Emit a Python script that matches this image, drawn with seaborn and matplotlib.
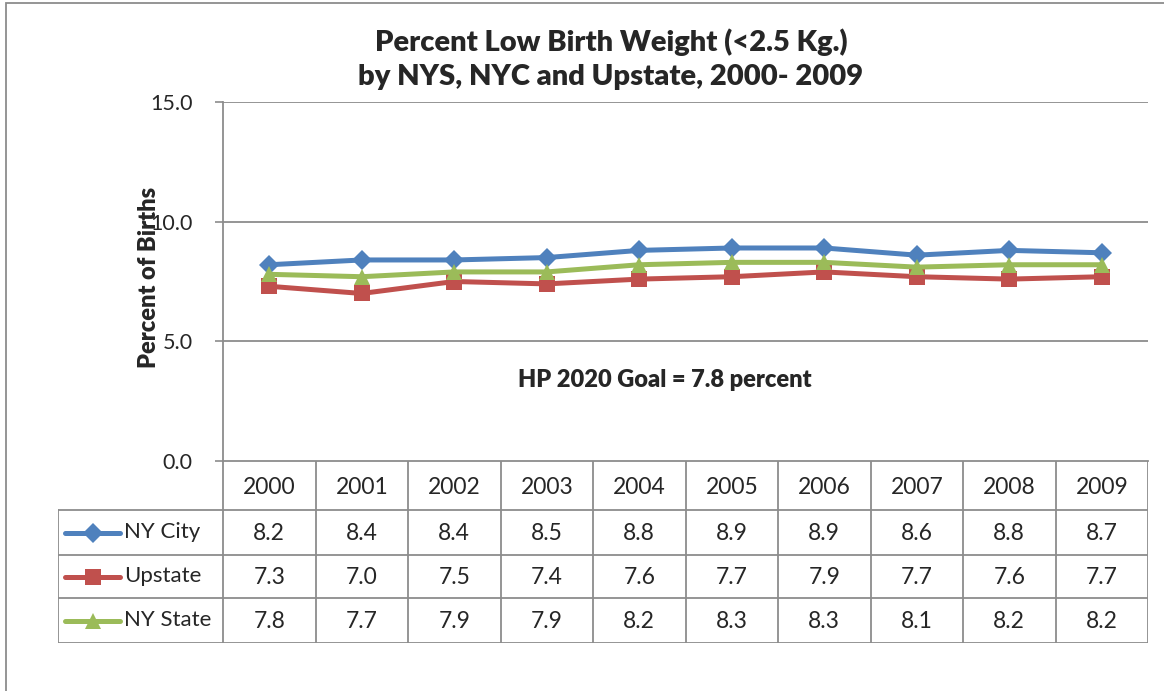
import pandas as pd
import matplotlib.pyplot as plt
import seaborn as sns
from matplotlib.patches import Rectangle
from matplotlib.lines import Line2D

# data
years = [2000, 2001, 2002, 2003, 2004, 2005, 2006, 2007, 2008, 2009]
ny_city = [8.2, 8.4, 8.4, 8.5, 8.8, 8.9, 8.9, 8.6, 8.8, 8.7]
upstate = [7.3, 7.0, 7.5, 7.4, 7.6, 7.7, 7.9, 7.7, 7.6, 7.7]
ny_state = [7.8, 7.7, 7.9, 7.9, 8.2, 8.3, 8.3, 8.1, 8.2, 8.2]
series_names = ["NY City", "Upstate", "NY State"]
y_ticks = [0, 5, 10, 15]

colors = {"NY City": "#4F81BD", "Upstate": "#C0504D", "NY State": "#9BBB59"}
markers = {"NY City": "D", "Upstate": "s", "NY State": "^"}
msizes = {"NY City": 10, "Upstate": 11, "NY State": 12}

df = pd.DataFrame({
    "year": years * 3,
    "value": ny_city + upstate + ny_state,
    "series": ["NY City"] * 10 + ["Upstate"] * 10 + ["NY State"] * 10,
})

sns.set_theme(style="white")
plt.rcParams["font.family"] = ["Lato", "DejaVu Sans"]

W, H = 1164, 691
fig = plt.figure(figsize=(W / 100, H / 100), dpi=100)
grid_c = "#8C8C8C"

# outer chart frame
fig.patches.append(Rectangle((6 / W, -0.05), 1.2, 1 - 3 / H + 0.05, transform=fig.transFigure,
                             fill=False, edgecolor=grid_c, lw=1.3))

ax = fig.add_axes([223 / W, 1 - 461 / H, (1148 - 223) / W, (461 - 102) / H])
for name in series_names:
    sub = df[df["series"] == name]
    sns.lineplot(data=sub, x="year", y="value", ax=ax, color=colors[name],
                 marker=markers[name], markersize=msizes[name], markeredgewidth=0,
                 linewidth=3.6, legend=False)

ax.set_xlim(years[0] - 0.5, years[-1] + 0.5)
ax.set_ylim(0, 15)
ax.set_yticks(y_ticks)
ax.set_yticklabels([f"{v:.1f}" for v in y_ticks], fontsize=15.5)
ax.set_xticks([])
ax.set_xlabel("")
ax.set_ylabel("Percent of Births", fontsize=17, fontweight="heavy")
ax.yaxis.set_label_coords(-0.068, 0.51)
ax.tick_params(axis="y", length=6, width=1.2, color=grid_c, pad=16, direction="out", left=True)
for v in y_ticks[1:]:
    ax.axhline(v, color=grid_c, lw=1.3, zorder=0)
for s in ["top", "right"]:
    ax.spines[s].set_visible(False)
for s in ["left", "bottom"]:
    ax.spines[s].set_color(grid_c)
    ax.spines[s].set_linewidth(1.3)

ax.text(0.478, 0.225, "HP 2020 Goal = 7.8 percent", transform=ax.transAxes,
        ha="center", va="center", fontsize=17, fontweight="heavy")

fig.text(611 / W, 1 - 42 / H, "Percent Low Birth Weight (<2.5 Kg.)", ha="center", va="center",
         fontsize=21, fontweight="heavy")
fig.text(611 / W, 1 - 77 / H, "by NYS, NYC and Upstate, 2000- 2009", ha="center", va="center",
         fontsize=21, fontweight="heavy")

# data table under the chart
tab = fig.add_axes([58 / W, 1 - 643 / H, (1148 - 58) / W, (643 - 461) / H])
label_w = (223 - 58) / 92.5
x0 = years[0] - 0.5
tab.set_xlim(x0 - label_w, years[-1] + 0.5)
row_edges = [0, 49, 94, 137, 182]
tab.set_ylim(row_edges[-1], 0)
tab.axis("off")

lc = dict(color=grid_c, lw=1.3)
for e in row_edges[1:]:
    tab.plot([x0 - label_w, years[-1] + 0.5], [e, e], **lc)
tab.plot([x0 - label_w, x0 - label_w], [row_edges[1], row_edges[-1]], **lc)
for k in range(len(years) + 1):
    tab.plot([x0 + k, x0 + k], [0, row_edges[-1]], **lc)

hdr_y = (row_edges[0] + row_edges[1]) / 2
for yr in years:
    tab.text(yr, hdr_y + 2, str(yr), ha="center", va="center", fontsize=16.5)

for i, (name, vals) in enumerate(zip(series_names, [ny_city, upstate, ny_state])):
    cy = (row_edges[i + 1] + row_edges[i + 2]) / 2
    for yr, v in zip(years, vals):
        tab.text(yr, cy + 1, f"{v:.1f}", ha="center", va="center", fontsize=16.5)
    kx0 = x0 - label_w + 7 / 92.5
    kx1 = x0 - label_w + 62 / 92.5
    tab.add_line(Line2D([kx0, kx1], [cy, cy], color=colors[name], lw=3.6,
                        solid_capstyle="round"))
    tab.add_line(Line2D([(kx0 + kx1) / 2], [cy], color=colors[name], marker=markers[name],
                        markersize=msizes[name], markeredgewidth=0, lw=0))
    tab.text(kx1 + 4 / 92.5, cy, name, ha="left", va="center", fontsize=16)

fig.savefig("out.png", dpi=100)
